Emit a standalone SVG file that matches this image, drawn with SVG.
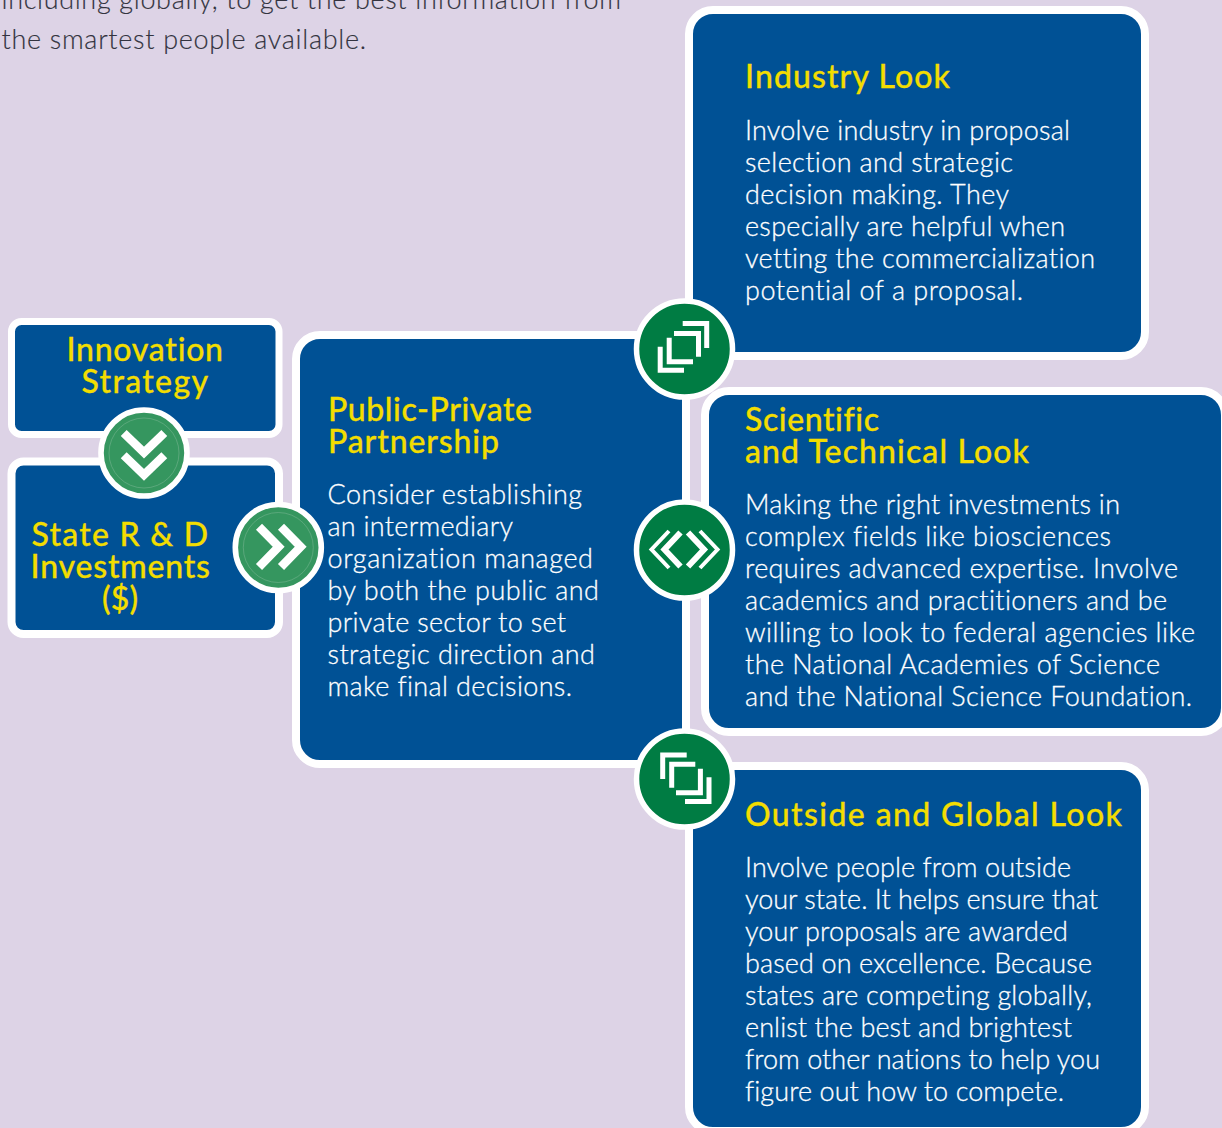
<svg xmlns="http://www.w3.org/2000/svg" width="1222" height="1128" viewBox="0 0 1222 1128">
<style>
text{font-family:"Lato","Liberation Sans",sans-serif;font-variant-ligatures:none}
.box{fill:#005195;stroke:#fff;stroke-width:8}
.h{font-size:32px;font-weight:500;fill:#f3dd00;stroke:#f3dd00;stroke-width:.3}
.b{font-size:27px;font-weight:300;fill:#fff;stroke:#fff;stroke-width:.3}
.t{font-size:27px;font-weight:300;fill:#33333f;stroke:#33333f;stroke-width:.15}
.ring{stroke:#fff}
.g1{fill:#35965f;stroke-width:5.600}.g2{fill:#007c43;stroke-width:5.500}
.thin{fill:none;stroke:#7fb896;stroke-width:.5}
.ico{fill:none;stroke:#fff;stroke-miterlimit:10}
</style>
<rect width="1222" height="1128" fill="#ddd3e6"/>
<g id="intro">
<text class="t" x="1.500" y="9" textLength="619.500">including globally, to get the best information from</text>
<text class="t" x="1.500" y="49" textLength="364.500">the smartest people available.</text>
</g>
<g id="industry-look">
<rect class="box" x="689" y="10" width="456" height="346" rx="24"/>
<text class="h" x="745" y="87.500" textLength="205">Industry Look</text>
<text class="b" x="745" y="140" textLength="325">Involve industry in proposal</text>
<text class="b" x="745" y="172" textLength="268">selection and strategic</text>
<text class="b" x="745" y="204" textLength="264">decision making. They</text>
<text class="b" x="745" y="236" textLength="320">especially are helpful when</text>
<text class="b" x="745" y="268" textLength="350">vetting the commercialization</text>
<text class="b" x="745" y="300" textLength="278">potential of a proposal.</text>
</g>
<g id="outside-global-look">
<rect class="box" x="689" y="766" width="456" height="365" rx="24"/>
<text class="h" x="745" y="825.500" textLength="377">Outside and Global Look</text>
<text class="b" x="745" y="877" textLength="326">Involve people from outside</text>
<text class="b" x="745" y="909" textLength="353">your state. It helps ensure that</text>
<text class="b" x="745" y="941" textLength="323">your proposals are awarded</text>
<text class="b" x="745" y="973" textLength="347">based on excellence. Because</text>
<text class="b" x="745" y="1005" textLength="347">states are competing globally,</text>
<text class="b" x="745" y="1037" textLength="327">enlist the best and brightest</text>
<text class="b" x="745" y="1069" textLength="355">from other nations to help you</text>
<text class="b" x="745" y="1101" textLength="319">figure out how to compete.</text>
</g>
<g id="scientific-technical-look">
<rect class="box" x="705" y="391" width="520" height="341" rx="24"/>
<text class="h" x="745" y="430.500" textLength="134">Scientific</text>
<text class="h" x="745" y="462.500" textLength="284">and Technical Look</text>
<text class="b" x="745" y="514" textLength="375">Making the right investments in</text>
<text class="b" x="745" y="546" textLength="366">complex fields like biosciences</text>
<text class="b" x="745" y="578" textLength="433">requires advanced expertise. Involve</text>
<text class="b" x="745" y="610" textLength="422">academics and practitioners and be</text>
<text class="b" x="745" y="642" textLength="450">willing to look to federal agencies like</text>
<text class="b" x="745" y="674" textLength="415">the National Academies of Science</text>
<text class="b" x="745" y="706" textLength="447">and the National Science Foundation.</text>
</g>
<g id="public-private-partnership">
<rect class="box" x="296" y="335" width="390" height="429" rx="24"/>
<text class="h" x="328" y="420.500" textLength="204">Public-Private</text>
<text class="h" x="328" y="452.500" textLength="171">Partnership</text>
<text class="b" x="327.500" y="504" textLength="254.500">Consider establishing</text>
<text class="b" x="327.500" y="536" textLength="185.500">an intermediary</text>
<text class="b" x="327.500" y="568" textLength="265.500">organization managed</text>
<text class="b" x="327.500" y="600" textLength="271.500">by both the public and</text>
<text class="b" x="327.500" y="632" textLength="238.500">private sector to set</text>
<text class="b" x="327.500" y="664" textLength="267.500">strategic direction and</text>
<text class="b" x="327.500" y="696" textLength="244.500">make final decisions.</text>
</g>
<g id="innovation-strategy">
<rect class="box" x="11.500" y="321.500" width="267.500" height="113" rx="10" style="stroke-width:7"/>
<text class="h" x="66.500" y="360.500" textLength="156.500">Innovation</text>
<text class="h" x="81.500" y="392.500" textLength="126.500">Strategy</text>
</g>
<g id="state-investments">
<rect class="box" x="11.500" y="461.500" width="267.500" height="172.500" rx="12"/>
<text class="h" x="31.500" y="545.500" textLength="176.500">State R &amp; D</text>
<text class="h" x="30.500" y="577.500" textLength="179.500">Investments</text>
<text class="h" x="102" y="609.500" textLength="36">($)</text>
</g>
<g id="connectors">
<g id="conn-down">
<circle class="g1 ring" cx="144" cy="453" r="43"/>
<circle class="thin" cx="144" cy="453" r="35"/>
<path class="ico" stroke-width="8.500" d="M123.700 433L144 452.500L164.300 433M123.700 455.300L144 474.800L164.300 455.300"/>
</g>
<g id="conn-right">
<circle class="g1 ring" cx="278.300" cy="547.500" r="43"/>
<circle class="thin" cx="278.300" cy="547.500" r="35"/>
<path class="ico" stroke-width="8.500" d="M259 526.700L278.700 546.700L259 567M281 526.700L300.700 546.700L281 567"/>
</g>
<g id="conn-up">
<circle class="g2 ring" cx="684.500" cy="349" r="48"/>
<path class="ico" stroke-width="5" d="M682.700 323.500H706.700V348M674 333.500H698.500V356.700M669.200 337.700V361.800H693M660.200 346.700V370.300H684"/>
</g>
<g id="conn-both">
<circle class="g2 ring" cx="684.500" cy="550" r="48"/>
<path class="ico" stroke-width="4" d="M669 531L651.500 549.500L669 568M700 531L717.500 549.500L700 568"/>
<path class="ico" stroke-width="6" d="M680.500 532.500L664.500 549.500L680.500 566.500M688 532.500L704 549.500L688 566.500"/>
</g>
<g id="conn-down-right">
<circle class="g2 ring" cx="684.500" cy="779" r="48"/>
<path class="ico" stroke-width="5" d="M662.700 779V755H686.700M671.700 787.700V764.200H695.300M676 792.700H700.400V768.700M685 801.500H709V777.300"/>
</g>
</g>
</svg>
